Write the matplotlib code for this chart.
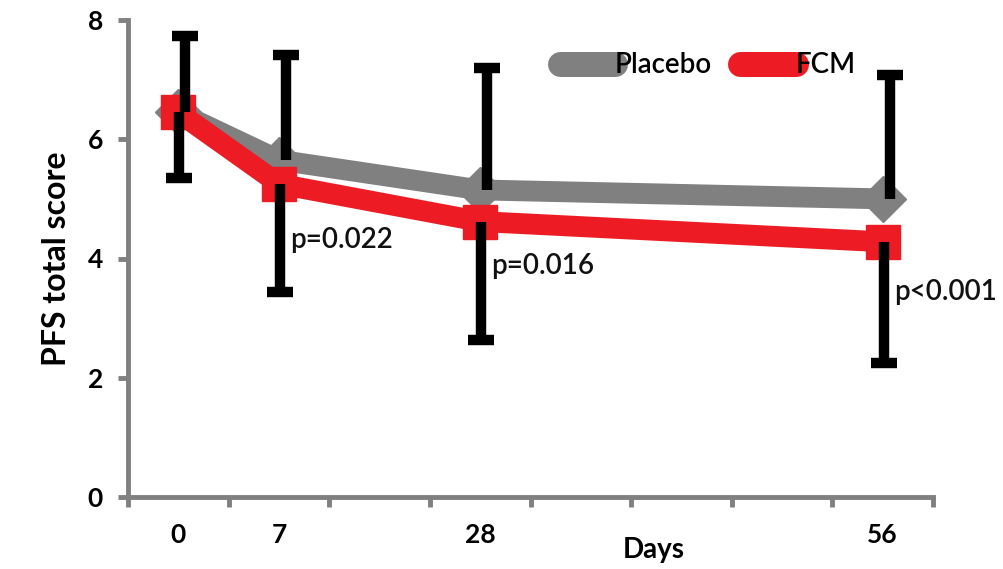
import matplotlib
matplotlib.use("Agg")
import matplotlib.pyplot as plt
import matplotlib.transforms as mtransforms
from matplotlib.lines import Line2D

plt.rcParams['font.family'] = ['Lato', 'DejaVu Sans']

# Excel-style category axis: 8 slots, only some labelled
slot_labels = ['0', '7', '', '28', '', '', '', '56']
days = ['0', '7', '28', '56']
slots = [slot_labels.index(d) for d in days]

placebo = [6.45, 5.65, 5.15, 5.00]
fcm = [6.45, 5.25, 4.62, 4.28]
placebo_err_up = [1.28, 1.77, 2.05, 2.08]
fcm_err_down = [1.10, 1.81, 1.99, 2.03]
pvalues = ['', 'p=0.022', 'p=0.016', 'p<0.001']
p_y = [0, 4.31, 3.88, 3.44]

GRAY = '#808080'
RED = '#ed1c24'

fig = plt.figure(figsize=(10.04, 5.69), dpi=100)
ax = fig.add_axes([128/1004, 1 - 497/569, (933-128)/1004, (497-20)/569])

xs = [s + 0.5 for s in slots]

ax.plot(xs, placebo, color=GRAY, lw=15, marker='D', ms=23, mfc=GRAY, mec=GRAY,
        solid_joinstyle='miter', zorder=2, clip_on=False)
ax.plot(xs, fcm, color=RED, lw=15, marker='s', ms=25, mfc=RED, mec=RED,
        solid_joinstyle='miter', zorder=3, clip_on=False)

off_r = mtransforms.offset_copy(ax.transData, fig=fig, x=7, y=0, units='dots')
off_l = mtransforms.offset_copy(ax.transData, fig=fig, x=1, y=0, units='dots')
ax.errorbar(xs, placebo, yerr=[[0]*4, placebo_err_up], fmt='none', ecolor='black',
            elinewidth=7.5, capsize=0, zorder=5, transform=off_r, clip_on=False)
ax.plot(xs, [p + e for p, e in zip(placebo, placebo_err_up)], ls='none', marker='_',
        ms=19, mew=7.5, color='black', zorder=5, transform=off_r, clip_on=False)
ax.errorbar(xs, fcm, yerr=[fcm_err_down, [0]*4], fmt='none', ecolor='black',
            elinewidth=7.5, capsize=0, zorder=5, transform=off_l, clip_on=False)
ax.plot(xs, [f - e for f, e in zip(fcm, fcm_err_down)], ls='none', marker='_',
        ms=19, mew=7.5, color='black', zorder=5, transform=off_l, clip_on=False)

for x, y, t in zip(xs, p_y, pvalues):
    if t:
        ax.text(x + 0.11, y, t, fontsize=20, fontweight='semibold', va='center', ha='left',
                color='#111111', zorder=6, clip_on=False)

ax.set_xlim(0, 8)
ax.set_ylim(0, 8)
ax.set_yticks([0, 2, 4, 6, 8])
ax.set_xticks(range(9))
ax.set_xticklabels([])
ax.set_xticks([i + 0.5 for i in range(8)], minor=True)
ax.set_xticklabels(slot_labels, minor=True)
ax.tick_params(axis='x', which='minor', length=0, pad=19, labelsize=19)
ax.tick_params(axis='x', which='major', length=7, width=3.5, color=GRAY, direction='out')
ax.tick_params(axis='y', length=7, width=3.5, color=GRAY, direction='out', pad=11, labelsize=19)
for lab in ax.get_xticklabels(minor=True) + ax.get_yticklabels():
    lab.set_fontweight('bold')

for s in ['top', 'right']:
    ax.spines[s].set_visible(False)
for s in ['left', 'bottom']:
    ax.spines[s].set_color(GRAY)
    ax.spines[s].set_linewidth(3.5)

ax.set_ylabel('PFS total score', fontsize=23, fontweight='bold', labelpad=12)
ax.set_xlabel('Days', fontsize=20, fontweight='bold', labelpad=0, va='center')
ax.xaxis.set_label_coords(0.653, -0.112)

handles = [Line2D([0], [0], color=GRAY, lw=18, solid_capstyle='round'),
           Line2D([0], [0], color=RED, lw=18, solid_capstyle='round')]
ax.legend(handles, ['Placebo', 'FCM'], ncol=2, frameon=False, loc='center left',
          bbox_to_anchor=(0.505, 0.905), handlelength=2.0, handletextpad=0.0,
          columnspacing=1.0, prop={'family': 'Lato', 'size': 20, 'weight': 'semibold'})

fig.savefig('out.png', dpi=100)
